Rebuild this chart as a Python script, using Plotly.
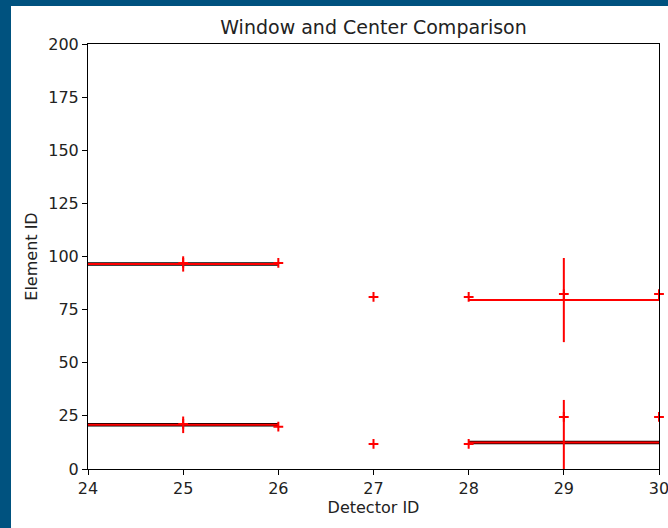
import plotly.graph_objects as go

# ---- data ----
detector_ids = [25, 26, 27, 28, 29, 30]
upper_elements = [97, 97, 81, 81, 82.3, 82.3]
lower_elements = [21.2, 19.9, 11.8, 11.8, 24.5, 24.5]

center_x = [25, 25, 29, 29]
center_y = [96.5, 20.8, 79.5, 12.5]
center_xerr = [1, 1, 1, 1]
center_yerr = [3.6, 3.9, 19.8, 20]

window_x0 = [24, 24, 28]
window_x1 = [26, 26, 30]
window_y = [96.5, 20.8, 12.5]

x_ticks = [24, 25, 26, 27, 28, 29, 30]
y_ticks = [0, 25, 50, 75, 100, 125, 150, 175, 200]

RED = "#ff0000"
FONT = "DejaVu Sans"

fig = go.Figure()

# black window lines
for x0, x1, y in zip(window_x0, window_x1, window_y):
    fig.add_trace(go.Scatter(x=[x0, x1], y=[y, y], mode="lines",
                             line=dict(color="black", width=3.5),
                             showlegend=False, hoverinfo="skip"))

# red error bars at centers
fig.add_trace(go.Scatter(
    x=center_x, y=center_y, mode="markers",
    marker=dict(size=1, color=RED, opacity=0),
    error_x=dict(type="data", array=center_xerr, color=RED, thickness=2, width=0),
    error_y=dict(type="data", array=center_yerr, color=RED, thickness=2, width=0),
    showlegend=False))

# plus markers
for ys in (upper_elements, lower_elements):
    fig.add_trace(go.Scatter(
        x=detector_ids, y=ys, mode="markers",
        marker=dict(symbol="cross-thin", size=7, line=dict(color=RED, width=2)),
        cliponaxis=False, showlegend=False))

W, H = 668, 528
ml, mr, mt, mb = 88, 9, 44, 59
pw, ph = W - ml - mr, H - mt - mb

def px_x(p):
    return (p - ml) / pw

def px_y(p):
    return (H - mb - p) / ph

border = "#00527f"
fig.add_shape(type="rect", xref="paper", yref="paper",
              x0=px_x(0), x1=px_x(W), y0=px_y(0), y1=px_y(6),
              fillcolor=border, line=dict(width=0), layer="above")
fig.add_shape(type="rect", xref="paper", yref="paper",
              x0=px_x(0), x1=px_x(11), y0=px_y(0), y1=px_y(H),
              fillcolor=border, line=dict(width=0), layer="above")

axis_common = dict(showgrid=False, zeroline=False, showline=True, linecolor="black",
                   linewidth=1, mirror=True, ticks="outside", ticklen=5,
                   tickcolor="black", tickwidth=1, ticklabeloverflow="allow",
                   tickfont=dict(family=FONT, size=16, color="#222"))

fig.update_layout(
    width=W, height=H,
    margin=dict(l=ml, r=mr, t=mt, b=mb, autoexpand=False),
    paper_bgcolor="white", plot_bgcolor="white",
    title=dict(text="Window and Center Comparison", x=(ml + pw / 2) / W, xanchor="center",
               y=1 - 27 / H, yanchor="middle",
               font=dict(family=FONT, size=19, color="#222")),
    xaxis=dict(range=[24, 30], tickvals=x_ticks, ticktext=[str(v) for v in x_ticks],
               title=dict(text="Detector ID", font=dict(family=FONT, size=16, color="#222"),
                          standoff=4),
               **axis_common),
    yaxis=dict(range=[0, 200], tickvals=y_ticks, ticktext=[str(v) for v in y_ticks],
               title=dict(text="Element ID", font=dict(family=FONT, size=16, color="#222"),
                          standoff=6),
               **axis_common),
)

fig.write_html("out.html", config={"displayModeBar": False},
               post_script="document.body.style.margin='0';")
